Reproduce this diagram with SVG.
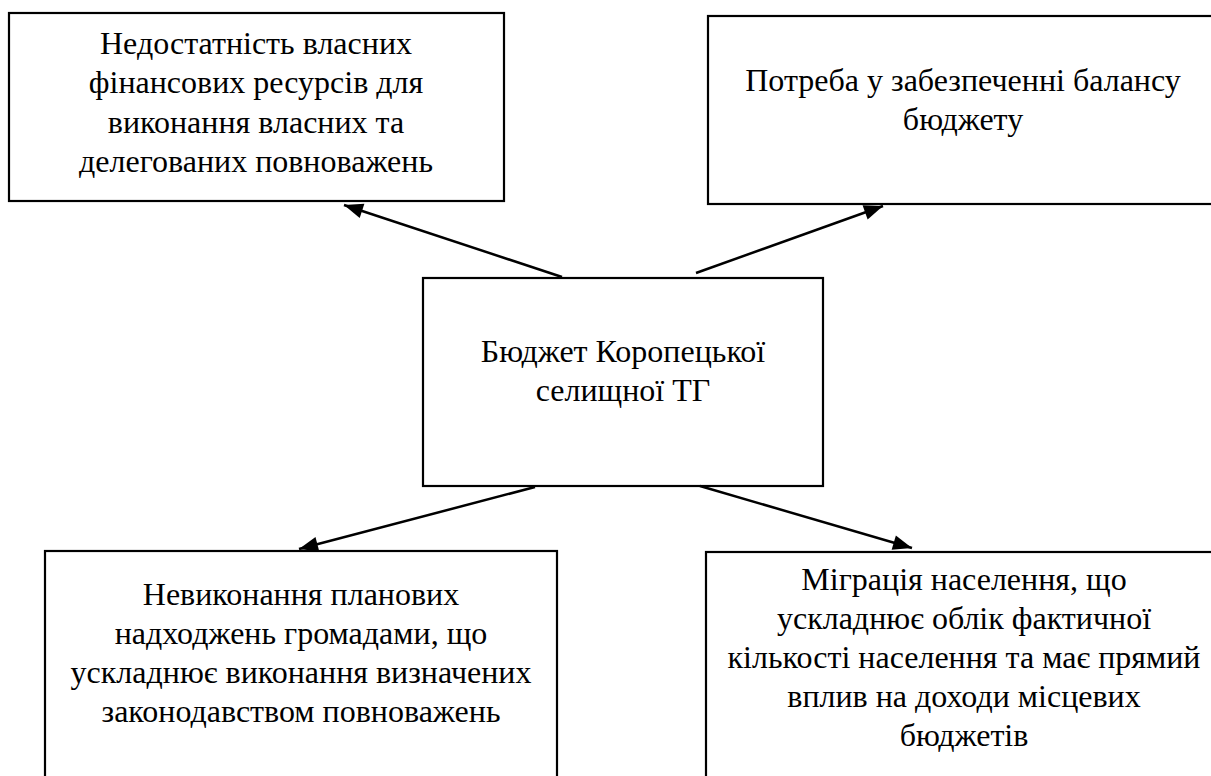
<svg xmlns="http://www.w3.org/2000/svg" width="1211" height="776" viewBox="0 0 1211 776">
<style>
.box{fill:#fff;stroke:#000;stroke-width:2.2}
.t{font-family:'Liberation Serif','DejaVu Serif',serif;font-size:32px;fill:#000;text-anchor:middle}
.c{fill:none;stroke:#000;stroke-width:2.5}
</style>
<defs>
<marker id="ah" markerUnits="userSpaceOnUse" markerWidth="24" markerHeight="24" viewBox="0 0 24 24" refX="21" refY="12" orient="auto">
<path d="M2,4.5 L21,12 L2,19.5 Z" fill="#000"/>
</marker>
</defs>
<rect width="1211" height="776" fill="#fff"/>
<g id="node-top-left">
<rect class="box" x="9" y="13" width="495" height="188"/>
<text class="t" x="256" y="54">Недостатність власних</text>
<text class="t" x="256" y="93">фінансових ресурсів для</text>
<text class="t" x="256" y="132.5">виконання власних та</text>
<text class="t" x="256" y="172">делегованих повноважень</text>
</g>
<g id="node-top-right">
<rect class="box" x="708" y="16" width="512" height="188"/>
<text class="t" x="963" y="91">Потреба у забезпеченні балансу</text>
<text class="t" x="963" y="130">бюджету</text>
</g>
<g id="node-center">
<rect class="box" x="423" y="278" width="400" height="208"/>
<text class="t" x="623" y="362">Бюджет Коропецької</text>
<text class="t" x="623" y="401">селищної ТГ</text>
</g>
<g id="node-bottom-left">
<rect class="box" x="45" y="551" width="512" height="240"/>
<text class="t" x="301" y="605">Невиконання планових</text>
<text class="t" x="301" y="644">надходжень громадами, що</text>
<text class="t" x="301" y="683">ускладнює виконання визначених</text>
<text class="t" x="301" y="722">законодавством повноважень</text>
</g>
<g id="node-bottom-right">
<rect class="box" x="706" y="552" width="516" height="240"/>
<text class="t" x="964" y="590">Міграція населення, що</text>
<text class="t" x="964" y="629">ускладнює облік фактичної</text>
<text class="t" x="964" y="668">кількості населення та має прямий</text>
<text class="t" x="964" y="707">вплив на доходи місцевих</text>
<text class="t" x="964" y="746">бюджетів</text>
</g>
<g id="connectors">
<path class="c" d="M562,277 L344,205" marker-end="url(#ah)"/>
<path class="c" d="M696,273 L883,206" marker-end="url(#ah)"/>
<path class="c" d="M535,487 L299,549" marker-end="url(#ah)"/>
<path class="c" d="M700,486 L912,548" marker-end="url(#ah)"/>
</g>
</svg>
